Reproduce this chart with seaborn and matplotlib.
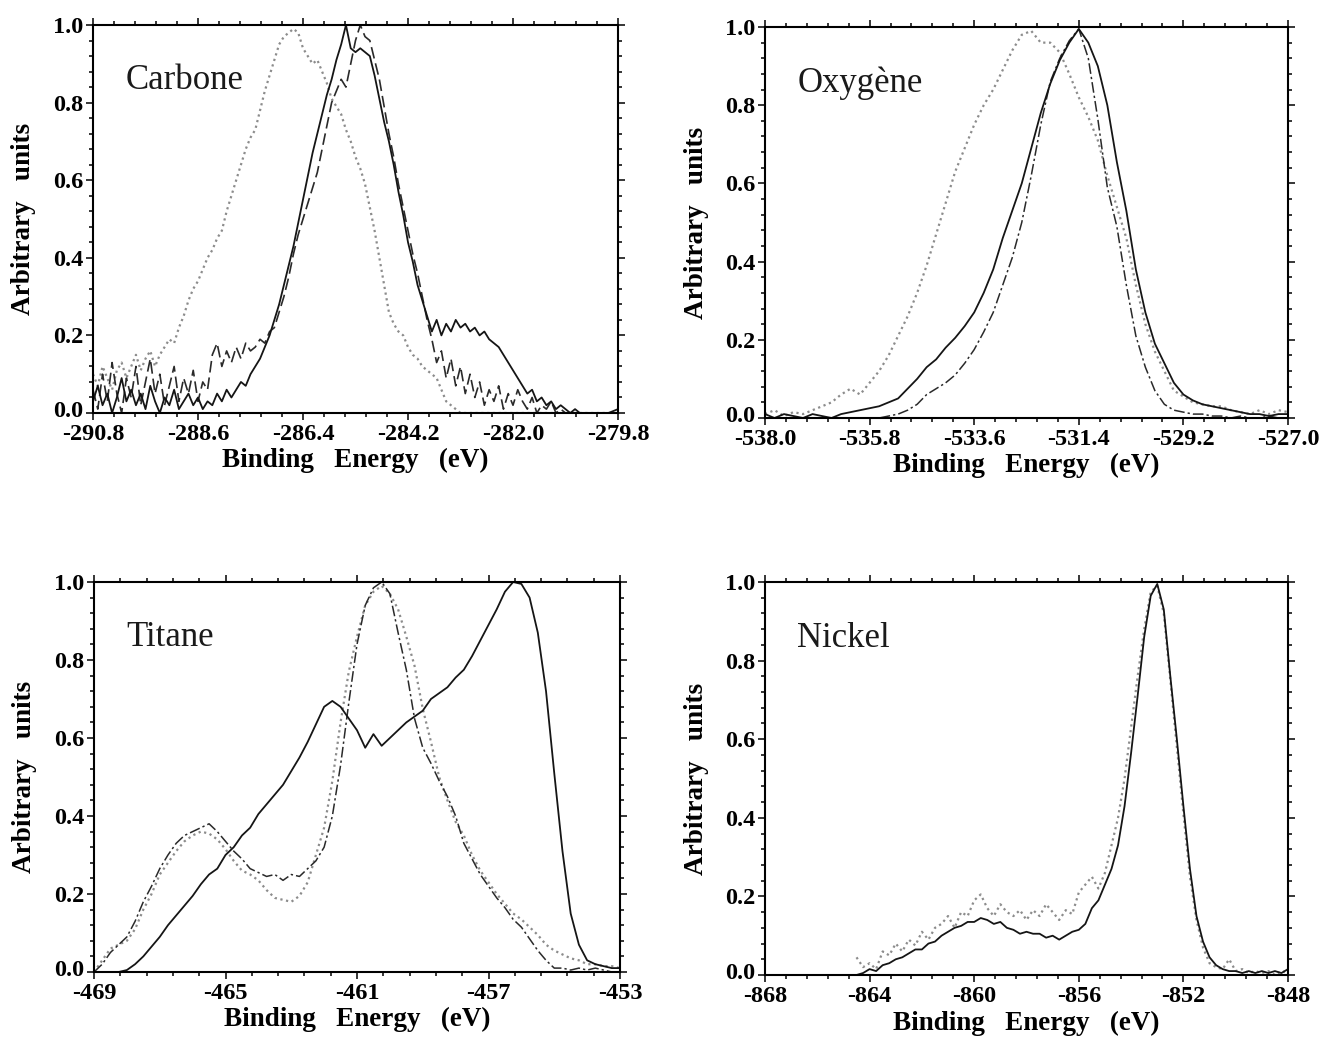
import numpy as np
import pandas as pd
import seaborn as sns
from matplotlib import pyplot as plt
from matplotlib import ticker as ticktools
from matplotlib.transforms import ScaledTranslation

# ---- Carbone (C 1s) : energies every 0.1 eV from -290.8 to -279.8
c_start, c_step, c_n = -290.8, 0.1, 111
c_solid = [0.03, 0.07, 0.02, 0.05, 0.00, 0.04, 0.09, 0.03, 0.06, 0.02,
           0.05, 0.01, 0.07, 0.03, 0.00, 0.04, 0.02, 0.06, 0.01, 0.03,
           0.05, 0.02, 0.04, 0.01, 0.03, 0.02, 0.05, 0.03, 0.06, 0.04,
           0.06, 0.08, 0.07, 0.10, 0.12, 0.14, 0.17, 0.20, 0.24, 0.28,
           0.33, 0.38, 0.43, 0.49, 0.55, 0.61, 0.67, 0.72, 0.77, 0.82,
           0.86, 0.91, 0.95, 1.00, 0.94, 0.93, 0.94, 0.93, 0.92, 0.87,
           0.81, 0.75, 0.70, 0.64, 0.57, 0.51, 0.44, 0.39, 0.33, 0.29,
           0.25, 0.21, 0.24, 0.20, 0.23, 0.21, 0.24, 0.22, 0.23, 0.21,
           0.22, 0.20, 0.21, 0.19, 0.18, 0.17, 0.15, 0.13, 0.11, 0.09,
           0.07, 0.05, 0.06, 0.03, 0.04, 0.02, 0.03, 0.01, 0.02, 0.01,
           0.00, 0.01, 0.00, 0.00, 0.00, 0.00, 0.00, 0.00, 0.00, 0.005,
           0.01]
c_dash = [0.06, 0.01, 0.10, 0.03, 0.13, 0.05, 0.00, 0.09, 0.04, 0.12,
          0.02, 0.08, 0.14, 0.05, 0.10, 0.02, 0.07, 0.12, 0.03, 0.09,
          0.05, 0.11, 0.03, 0.08, 0.06, 0.15, 0.18, 0.12, 0.16, 0.13,
          0.17, 0.14, 0.18, 0.16, 0.17, 0.19, 0.18, 0.21, 0.22, 0.26,
          0.30, 0.35, 0.41, 0.46, 0.50, 0.54, 0.58, 0.62, 0.68, 0.74,
          0.80, 0.83, 0.86, 0.84, 0.90, 0.96, 1.00, 0.97, 0.96, 0.91,
          0.86, 0.79, 0.72, 0.66, 0.59, 0.53, 0.47, 0.41, 0.36, 0.30,
          0.24, 0.19, 0.13, 0.16, 0.09, 0.14, 0.07, 0.12, 0.05, 0.10,
          0.04, 0.08, 0.02, 0.06, 0.03, 0.07, 0.01, 0.05, 0.02, 0.06,
          0.03, 0.01, 0.04, 0.00, 0.02, 0.01, 0.03, 0.00, 0.01, 0.00,
          0.00, 0.00, 0.00, 0.00, 0.00, 0.00, 0.00, 0.00, 0.00, 0.00,
          0.00]
c_dot = [0.10, 0.07, 0.12, 0.09, 0.06, 0.11, 0.13, 0.09, 0.12, 0.15,
         0.11, 0.14, 0.16, 0.12, 0.15, 0.17, 0.19, 0.18, 0.22, 0.25,
         0.29, 0.32, 0.34, 0.37, 0.40, 0.42, 0.45, 0.47, 0.52, 0.56,
         0.60, 0.64, 0.68, 0.71, 0.73, 0.78, 0.83, 0.87, 0.91, 0.95,
         0.97, 0.98, 0.99, 0.98, 0.94, 0.92, 0.90, 0.91, 0.88, 0.85,
         0.81, 0.79, 0.77, 0.73, 0.70, 0.66, 0.63, 0.59, 0.53, 0.47,
         0.40, 0.33, 0.26, 0.23, 0.21, 0.20, 0.17, 0.15, 0.14, 0.12,
         0.11, 0.10, 0.09, 0.06, 0.03, 0.02, 0.01, 0.00, 0.00, 0.00,
         0.00, 0.00, 0.00, 0.00, 0.00, 0.00, 0.00, 0.00, 0.00, 0.00,
         0.00, 0.00, 0.00, 0.00, 0.00, 0.00, 0.00, 0.00, 0.00, 0.00,
         0.00, 0.00, 0.00, 0.00, 0.00, 0.00, 0.00, 0.00, 0.00, 0.00,
         0.00]
c_ticks = [-290.8, -288.6, -286.4, -284.2, -282.0, -279.8]

# ---- Oxygene (O 1s) : every 0.2 eV from -538.0 to -527.0
o_start, o_step, o_n = -538.0, 0.2, 56
o_solid = [0.01, 0.00, 0.01, 0.005, 0.00, 0.01, 0.005, 0.00,
           0.01, 0.015, 0.02, 0.025, 0.03, 0.04, 0.05, 0.075,
           0.10, 0.13, 0.15, 0.18, 0.205, 0.235, 0.27, 0.32,
           0.38, 0.46, 0.53, 0.60, 0.69, 0.78, 0.855, 0.915,
           0.96, 0.995, 0.96, 0.90, 0.80, 0.655, 0.53, 0.38,
           0.27, 0.19, 0.14, 0.09, 0.06, 0.045, 0.035, 0.03,
           0.025, 0.02, 0.015, 0.01, 0.01, 0.005, 0.01, 0.01]
o_dash = [0.00, 0.00, 0.00, 0.00, 0.00, 0.00, 0.00, 0.00,
          0.00, 0.00, 0.00, 0.00, 0.00, 0.005, 0.01, 0.02,
          0.035, 0.06, 0.075, 0.09, 0.11, 0.14, 0.175, 0.22,
          0.27, 0.34, 0.41, 0.50, 0.62, 0.75, 0.86, 0.92,
          0.965, 0.995, 0.92, 0.765, 0.59, 0.49, 0.34, 0.21,
          0.13, 0.07, 0.035, 0.02, 0.015, 0.01, 0.01, 0.005,
          0.005, 0.00, 0.005, 0.00, 0.00, 0.005, 0.00, 0.00]
o_dot = [0.01, 0.02, 0.005, 0.015, 0.01, 0.02, 0.03, 0.04,
         0.06, 0.075, 0.06, 0.09, 0.12, 0.16, 0.21, 0.26,
         0.32, 0.39, 0.47, 0.55, 0.63, 0.69, 0.75, 0.80,
         0.84, 0.89, 0.94, 0.98, 0.99, 0.96, 0.96, 0.935,
         0.88, 0.82, 0.77, 0.71, 0.62, 0.54, 0.46, 0.34,
         0.24, 0.17, 0.12, 0.07, 0.055, 0.04, 0.035, 0.03,
         0.03, 0.02, 0.015, 0.01, 0.02, 0.01, 0.02, 0.015]
o_ticks = [-538.0, -535.8, -533.6, -531.4, -529.2, -527.0]

# ---- Titane (Ti 2p) : every 0.25 eV from -469 to -453
t_start, t_step, t_n = -469.0, 0.25, 65
t_solid = [0, 0, 0, 0, 0.005, 0.02, 0.04, 0.065, 0.09, 0.12, 0.145, 0.17, 0.195,
           0.225, 0.25, 0.265, 0.30, 0.32, 0.35, 0.37, 0.405, 0.43, 0.455, 0.48, 0.515, 0.55,
           0.59, 0.635, 0.68, 0.695, 0.68, 0.65, 0.62, 0.575, 0.61, 0.58, 0.60, 0.62, 0.64,
           0.655, 0.67, 0.70, 0.715, 0.73, 0.755, 0.775, 0.81, 0.85, 0.89, 0.93, 0.975, 1.0,
           0.995, 0.96, 0.87, 0.72, 0.51, 0.31, 0.15, 0.07, 0.03, 0.02, 0.015, 0.01, 0.01]
t_dash = [0, 0.02, 0.05, 0.07, 0.09, 0.13, 0.18, 0.22, 0.265, 0.30, 0.33, 0.35, 0.36,
          0.37, 0.38, 0.36, 0.335, 0.31, 0.29, 0.265, 0.255, 0.245, 0.25, 0.235, 0.25, 0.245,
          0.265, 0.285, 0.32, 0.40, 0.53, 0.69, 0.84, 0.94, 0.985, 1.0, 0.97, 0.87, 0.775,
          0.65, 0.575, 0.535, 0.49, 0.45, 0.40, 0.33, 0.29, 0.25, 0.22, 0.19, 0.165, 0.135,
          0.115, 0.085, 0.055, 0.03, 0.01, 0.01, 0.005, 0.01, 0.005, 0.01, 0.005, 0.0, 0.0]
t_dot = [0, 0.03, 0.06, 0.07, 0.08, 0.11, 0.16, 0.20, 0.25, 0.28, 0.31, 0.335, 0.35,
         0.36, 0.355, 0.34, 0.315, 0.285, 0.26, 0.25, 0.235, 0.21, 0.19, 0.185, 0.18, 0.195,
         0.23, 0.30, 0.37, 0.49, 0.64, 0.77, 0.86, 0.94, 0.975, 0.99, 0.97, 0.93, 0.86,
         0.785, 0.675, 0.59, 0.50, 0.44, 0.385, 0.35, 0.30, 0.26, 0.23, 0.20, 0.175, 0.15,
         0.135, 0.115, 0.095, 0.07, 0.055, 0.045, 0.035, 0.03, 0.02, 0.02, 0.015, 0.015, 0.01]
t_ticks = [-469, -465, -461, -457, -453]

# ---- Nickel (Ni 2p) : every 0.25 eV from -864.5 to -848
n_start, n_step, n_n = -864.5, 0.25, 67
n_solid = [0.0, 0.005, 0.015, 0.01, 0.025, 0.03, 0.04, 0.045, 0.055, 0.065,
           0.065, 0.08, 0.085, 0.10, 0.11, 0.12, 0.125, 0.135, 0.135, 0.145,
           0.14, 0.13, 0.135, 0.12, 0.115, 0.105, 0.11, 0.105, 0.105, 0.095,
           0.10, 0.09, 0.10, 0.11, 0.115, 0.13, 0.17, 0.19, 0.23, 0.27,
           0.33, 0.43, 0.565, 0.71, 0.86, 0.965, 0.995, 0.93, 0.76, 0.60,
           0.43, 0.27, 0.15, 0.085, 0.045, 0.025, 0.015, 0.01, 0.01, 0.005,
           0.01, 0.005, 0.01, 0.005, 0.01, 0.005, 0.015]
n_dot = [0.045, 0.02, 0.03, 0.015, 0.06, 0.05, 0.08, 0.06, 0.09, 0.075,
         0.11, 0.09, 0.12, 0.13, 0.15, 0.12, 0.16, 0.15, 0.19, 0.205,
         0.17, 0.15, 0.18, 0.16, 0.15, 0.165, 0.14, 0.165, 0.15, 0.18,
         0.16, 0.14, 0.165, 0.155, 0.21, 0.23, 0.25, 0.22, 0.26, 0.33,
         0.40, 0.50, 0.63, 0.76, 0.88, 0.975, 0.99, 0.92, 0.75, 0.58,
         0.41, 0.25, 0.14, 0.07, 0.03, 0.02, 0.015, 0.04, 0.01, 0.015,
         0.005, 0.01, 0.005, 0.01, 0.0, 0.01, 0.005]
n_ticks = [-868, -864, -860, -856, -852, -848]

# ---- styles of the three curves
styles = {
    "solid": dict(color="#151515", linewidth=1.3, linestyle="-"),
    "dash": dict(color="#2a2a2a", linewidth=1.2, linestyle=(0, (7, 3))),
    "dashdot": dict(color="#2a2a2a", linewidth=1.1, linestyle=(0, (7, 2, 1.5, 2))),
    "dot": dict(color="#8c8c8c", linewidth=1.6, linestyle=(0, (1, 1.6))),
}


def energies(start, step, n):
    return np.round(start + step * np.arange(n), 3)


def make_frame(start, step, n, series):
    x = energies(start, step, n)
    frames = []
    for name, vals in series.items():
        frames.append(pd.DataFrame({"energy": x, "intensity": vals, "curve": name}))
    return pd.concat(frames, ignore_index=True)


panels = [
    ("Carbone", [93, 413, 525, 388], make_frame(c_start, c_step, c_n,
     {"dot": c_dot, "dash": c_dash, "solid": c_solid}), c_ticks, 0.44, "%.1f"),
    ("Oxygène", [765, 418, 523, 391], make_frame(o_start, o_step, o_n,
     {"dot": o_dot, "dashdot": o_dash, "solid": o_solid}), o_ticks, 0.44, "%.1f"),
    ("Titane", [94, 972, 526, 390], make_frame(t_start, t_step, t_n,
     {"dot": t_dot, "dashdot": t_dash, "solid": t_solid}), t_ticks, 0.8, "%d"),
    ("Nickel", [765, 975, 523, 393], make_frame(n_start, n_step, n_n,
     {"dot": n_dot, "solid": n_solid}), n_ticks, 0.8, "%d"),
]

sns.set_theme(style="ticks")
plt.rcParams["font.family"] = ["Liberation Serif", "DejaVu Serif"]
plt.rcParams["axes.linewidth"] = 1.5

W, H = 1322, 1040
fig = plt.figure(figsize=(W / 100, H / 100), dpi=100)
fig.patch.set_facecolor("white")

for title, (px, py, pw, ph), df, ticks, minor, fmt in panels:
    ax = fig.add_axes([px / W, 1 - py / H, pw / W, ph / H])
    ax.set_facecolor("white")
    for name in df["curve"].unique():
        sub = df[df["curve"] == name]
        sns.lineplot(data=sub, x="energy", y="intensity", ax=ax,
                     estimator=None, sort=False, legend=False, **styles[name])

    ax.set_xlim(ticks[0], ticks[-1])
    ax.set_ylim(0, 1.0)
    ax.xaxis.set_major_locator(ticktools.FixedLocator(ticks))
    ax.xaxis.set_minor_locator(ticktools.FixedLocator(
        np.arange(ticks[0], ticks[-1] + minor / 2, minor)))
    ax.xaxis.set_major_formatter(ticktools.FormatStrFormatter(fmt))
    ax.yaxis.set_major_locator(ticktools.FixedLocator([0, 0.2, 0.4, 0.6, 0.8, 1.0]))
    ax.yaxis.set_minor_locator(ticktools.MultipleLocator(0.04))
    ax.yaxis.set_major_formatter(ticktools.FormatStrFormatter("%.1f"))

    for s in ax.spines.values():
        s.set_visible(True)
        s.set_color("black")
        s.set_linewidth(1.5)
    ax.tick_params(which="both", direction="out", top=True, right=True,
                   color="black", width=1.1)
    ax.tick_params(which="major", length=5)
    ax.tick_params(which="minor", length=3)
    ax.tick_params(axis="x", pad=3)
    ax.tick_params(axis="y", pad=2)
    for lab in ax.get_xticklabels() + ax.get_yticklabels():
        lab.set_fontsize(17.5)
        lab.set_fontweight("bold")
        lab.set_color("black")
    # lift the "0.0" label a little so it clears the first energy label
    zero_lab = ax.get_yticklabels()[0]
    zero_lab.set_transform(zero_lab.get_transform()
                           + ScaledTranslation(0, 3 / 72, fig.dpi_scale_trans))

    ax.set_xlabel("Binding   Energy   (eV)", fontsize=19.5, fontweight="bold",
                  color="black")
    ax.set_ylabel("Arbitrary   units", fontsize=19.5, fontweight="bold",
                  color="black")
    ax.xaxis.set_label_coords(0.5, -0.09)
    ax.yaxis.set_label_coords(-0.108, 0.5)

    ax.text(0.062, 0.835, title, transform=ax.transAxes, fontsize=25,
            color="#1a1a1a", ha="left", va="baseline")

fig.savefig("out.png", dpi=100, facecolor="white")
